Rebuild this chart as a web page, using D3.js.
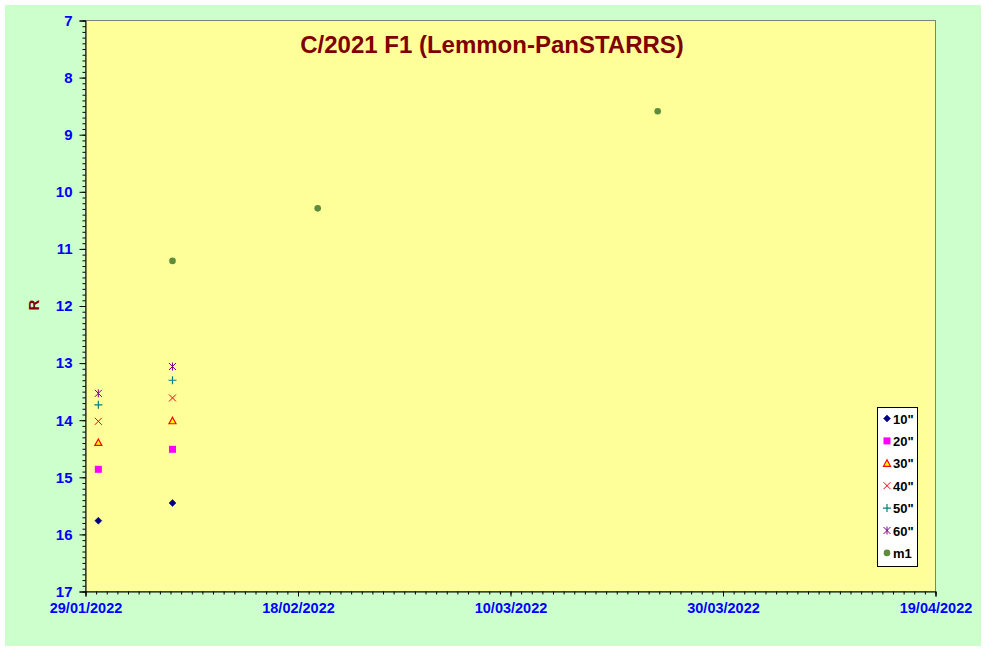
<!DOCTYPE html>
<html>
<head>
<meta charset="utf-8">
<script src="https://cdn.jsdelivr.net/npm/d3@7"></script>
<style>
  html, body { margin: 0; padding: 0; background: #ffffff; }
  svg { display: block; font-family: "Liberation Sans", Arial, sans-serif; }
</style>
</head>
<body>
<svg id="chart" width="985" height="650"></svg>
<script>
// ---- data ----
const title = "C/2021 F1 (Lemmon-PanSTARRS)";
const yLabel = "R";
const apertureDates = ["2022-01-30T05:00", "2022-02-06T04:30"];
const mag10 = [15.76, 15.45];
const mag20 = [14.86, 14.51];
const mag30 = [14.39, 14.01];
const mag40 = [14.02, 13.61];
const mag50 = [13.73, 13.30];
const mag60 = [13.53, 13.06];
const m1Dates = ["2022-02-06T04:30", "2022-02-19T20:30", "2022-03-23T20:30"];
const m1Values = [11.21, 10.29, 8.59];
const xTickLabels = ["29/01/2022", "18/02/2022", "10/03/2022", "30/03/2022", "19/04/2022"];
const yTickValues = [7, 8, 9, 10, 11, 12, 13, 14, 15, 16, 17];
const legendLabels = ['10"', '20"', '30"', '40"', '50"', '60"', 'm1'];

// ---- layout ----
const svg = d3.select("#chart");
const plot = { left: 85.5, right: 935.5, top: 20.5, bottom: 591.5 };
const parseDMY = d3.utcParse("%d/%m/%Y");
const parseISO = d3.utcParse("%Y-%m-%dT%H:%M");
const xDomain = [parseDMY(xTickLabels[0]), parseDMY(xTickLabels[xTickLabels.length - 1])];
const x = d3.scaleUtc().domain(xDomain).range([plot.left, plot.right]);
const y = d3.scaleLinear().domain([7, 17]).range([plot.top, plot.bottom]);

// outer background
svg.append("rect").attr("x", 5).attr("y", 5).attr("width", 976).attr("height", 641)
  .attr("fill", "#CCFFCC");
// plot area
svg.append("rect").attr("x", plot.left).attr("y", plot.top)
  .attr("width", plot.right - plot.left).attr("height", plot.bottom - plot.top)
  .attr("fill", "#FFFF99").attr("stroke", "#808080").attr("stroke-width", 1);

// title
svg.append("text").attr("x", 492).attr("y", 53).attr("text-anchor", "middle")
  .attr("font-size", 24).attr("font-weight", "bold").attr("fill", "#800000").text(title);

// y axis
const yMinor = d3.range(70, 171).map(v => v / 10);
const yAxisMinor = d3.axisLeft(y).tickValues(yMinor).tickSize(3).tickFormat("");
const yAxisMajor = d3.axisLeft(y).tickValues(yTickValues).tickSize(6).tickFormat(d3.format("d")).tickPadding(7);
svg.append("g").attr("transform", `translate(${plot.left},0)`).call(yAxisMinor)
  .call(g => g.select(".domain").remove())
  .selectAll("line").attr("stroke", "#000");
const gy = svg.append("g").attr("transform", `translate(${plot.left},0)`).call(yAxisMajor);
gy.select(".domain").attr("stroke", "#000");
gy.selectAll("line").attr("stroke", "#000");
gy.selectAll("text").attr("fill", "#0000FF").attr("font-size", 15).attr("font-weight", "bold")
  .attr("font-family", "Liberation Sans, Arial, sans-serif");

// x axis
const xMinor = d3.utcDay.range(xDomain[0], d3.utcDay.offset(xDomain[1], 1));
const xMajor = xTickLabels.map(parseDMY);
const fmt = d3.utcFormat("%d/%m/%Y");
svg.append("g").attr("transform", `translate(0,${plot.bottom})`)
  .call(d3.axisBottom(x).tickValues(xMinor).tickSize(3).tickFormat(""))
  .call(g => g.select(".domain").remove())
  .selectAll("line").attr("stroke", "#000");
const gx = svg.append("g").attr("transform", `translate(0,${plot.bottom})`)
  .call(d3.axisBottom(x).tickValues(xMajor).tickSize(5).tickFormat(fmt).tickPadding(6));
gx.select(".domain").attr("stroke", "#000");
gx.selectAll("line").attr("stroke", "#000");
gx.selectAll("text").attr("fill", "#0000FF").attr("font-size", 14.5).attr("font-weight", "bold")
  .attr("font-family", "Liberation Sans, Arial, sans-serif");

// y label
svg.append("text").attr("transform", `translate(39,305) rotate(-90)`).attr("text-anchor", "middle")
  .attr("font-size", 15).attr("font-weight", "bold").attr("fill", "#800000").text(yLabel);

// ---- markers ----
function drawMarker(g, type, cx, cy) {
  switch (type) {
    case "diamond":
      g.append("path").attr("d", `M${cx},${cy-3.5}L${cx+3.5},${cy}L${cx},${cy+3.5}L${cx-3.5},${cy}Z`)
        .attr("fill", "#000080").attr("stroke", "#000080").attr("stroke-width", 0.5);
      break;
    case "square":
      g.append("rect").attr("x", cx - 3.5).attr("y", cy - 3.5).attr("width", 7).attr("height", 7)
        .attr("fill", "#FF00FF");
      break;
    case "triangle":
      g.append("path").attr("d", `M${cx},${cy-3.5}L${cx+3.5},${cy+3}L${cx-3.5},${cy+3}Z`)
        .attr("fill", "#FFFF00").attr("stroke", "#FF0000").attr("stroke-width", 1.2);
      break;
    case "x":
      g.append("path").attr("d", `M${cx-3.5},${cy-3.5}L${cx+3.5},${cy+3.5}M${cx+3.5},${cy-3.5}L${cx-3.5},${cy+3.5}`)
        .attr("stroke", "#FF0000").attr("stroke-width", 1).attr("fill", "none");
      break;
    case "plus":
      g.append("path").attr("d", `M${cx-4},${cy}L${cx+4},${cy}M${cx},${cy-4}L${cx},${cy+4}`)
        .attr("stroke", "#008080").attr("stroke-width", 1.2).attr("fill", "none");
      break;
    case "star":
      g.append("path").attr("d", `M${cx-3.5},${cy-3.5}L${cx+3.5},${cy+3.5}M${cx+3.5},${cy-3.5}L${cx-3.5},${cy+3.5}M${cx},${cy-4}L${cx},${cy+4}`)
        .attr("stroke", "#800080").attr("stroke-width", 1).attr("fill", "none");
      break;
    case "circle":
      g.append("circle").attr("cx", cx).attr("cy", cy).attr("r", 3.3).attr("fill", "#5C8C3C");
      break;
  }
}

const series = [
  { type: "diamond", dates: apertureDates, values: mag10 },
  { type: "square", dates: apertureDates, values: mag20 },
  { type: "triangle", dates: apertureDates, values: mag30 },
  { type: "x", dates: apertureDates, values: mag40 },
  { type: "plus", dates: apertureDates, values: mag50 },
  { type: "star", dates: apertureDates, values: mag60 },
  { type: "circle", dates: m1Dates, values: m1Values }
];
const gPts = svg.append("g");
series.forEach(s => {
  s.values.forEach((v, i) => drawMarker(gPts, s.type, x(parseISO(s.dates[i])), y(v)));
});

// legend
const lg = svg.append("g");
lg.append("rect").attr("x", 877.5).attr("y", 407.5).attr("width", 40).attr("height", 159)
  .attr("fill", "#FFFFFF").attr("stroke", "#000").attr("stroke-width", 1);
legendLabels.forEach((lab, i) => {
  const cy = 418.5 + i * 22.4;
  drawMarker(lg, series[i].type, 887, cy);
  lg.append("text").attr("x", 893).attr("y", cy + 5).attr("font-size", 13).attr("font-weight", "bold")
    .attr("fill", "#000").text(lab);
});
</script>
</body>
</html>
